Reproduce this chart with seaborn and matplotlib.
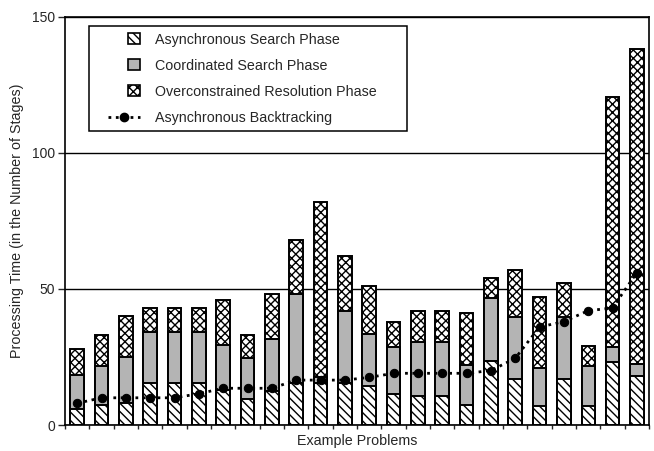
import numpy as np
import matplotlib
matplotlib.use('Agg')
import matplotlib.pyplot as plt
import matplotlib.patches as mpatches
from matplotlib.lines import Line2D
from matplotlib.legend_handler import HandlerPatch, HandlerLine2D
import seaborn as sns

# one entry per example problem (left to right)
problems = [str(i) for i in range(1, 25)]
async_phase = [6, 7.5, 8, 15.5, 15.5, 15.5, 13, 9.5, 12.5, 15.5, 15.5, 15.5,
               14.5, 11.5, 10.5, 10.5, 7.5, 23.5, 17, 7, 17, 7, 23, 18]
coord_phase = [12.5, 14, 17, 18.5, 18.5, 18.5, 16.5, 15, 19, 32.5, 2, 26.5,
               19, 17, 20, 20, 14.5, 23, 22.5, 14, 22.5, 14.5, 5.5, 4.5]
overc_phase = [9.5, 11.5, 15, 9, 9, 9, 16.5, 8.5, 16.5, 20, 64.5, 20,
               17.5, 9.5, 11.5, 11.5, 19, 7.5, 17.5, 26, 12.5, 7.5, 92, 115.5]
backtracking = [8, 10, 10, 10, 10, 11.5, 13.5, 13.5, 13.5, 16.5, 16.5, 16.5,
                17.5, 19, 19, 19, 19, 20, 24.5, 36, 38, 42, 43, 56]

y_ticks = [0, 50, 100, 150]

sns.set_style('white')
plt.rcParams['font.family'] = ['Liberation Sans', 'DejaVu Sans']
plt.rcParams['hatch.linewidth'] = 1.0
plt.rcParams['hatch.color'] = 'black'

# stacked heights
coord_top = np.array(async_phase) + np.array(coord_phase)
total = coord_top + np.array(overc_phase)

fig = plt.figure(figsize=(6.54, 4.51), dpi=100)
ax = fig.add_axes([0.0994, 0.0576, 0.8930, 0.9054])

bar_kw = dict(width=0.55, edgecolor='black', linewidth=1.4, saturation=1,
              errorbar=None, ax=ax)
sns.barplot(x=problems, y=total, color='white', hatch='xxxx', **bar_kw)
sns.barplot(x=problems, y=coord_top, color='#b4b4b4', **bar_kw)
sns.barplot(x=problems, y=async_phase, color='white', hatch='\\\\\\\\', **bar_kw)

sns.lineplot(x=np.arange(len(problems)), y=backtracking, color='black',
             linestyle=':', linewidth=2, marker='o', markersize=6,
             markeredgecolor='black', ax=ax, zorder=5)

ax.set_xlim(-0.5, len(problems) - 0.5)
ax.set_ylim(0, 150)
ax.set_yticks(y_ticks)
ax.set_xticks([])
ax.set_xticks(np.arange(len(problems) + 1) - 0.5, minor=True)
ax.tick_params(axis='x', which='minor', length=3, width=1, direction='out',
               bottom=True)
ax.tick_params(axis='y', length=5, width=1, direction='out', pad=2,
               labelsize=10, left=True)
ax.set_axisbelow(True)
ax.yaxis.grid(True, color='black', linewidth=1)
for s in ax.spines.values():
    s.set_visible(True)
    s.set_color('black')
    s.set_linewidth(1.2)

ax.set_xlabel('Example Problems', fontsize=10.3, labelpad=0)
ax.set_ylabel('Processing Time (in the Number of Stages)', fontsize=10.3,
              labelpad=6)


# legend: small square swatches, line drawn on the right part of the handle
def square_patch(legend, orig_handle, xdescent, ydescent, width, height, fontsize):
    side = height * 1.15
    return mpatches.Rectangle((width - side - xdescent, -ydescent + (height - side) / 2),
                              side, side)


class RightLine(HandlerLine2D):
    def get_xdata(self, legend, xdescent, ydescent, width, height, fontsize):
        x0 = -xdescent + 0.28 * width
        x1 = -xdescent + width
        return np.array([x0, x1]), np.array([(x0 + x1) / 2])


h_async = mpatches.Patch(facecolor='white', edgecolor='black', hatch='\\\\\\\\', linewidth=1.2)
h_coord = mpatches.Patch(facecolor='#b4b4b4', edgecolor='black', linewidth=1.2)
h_overc = mpatches.Patch(facecolor='white', edgecolor='black', hatch='xxxx', linewidth=1.2)
h_back = Line2D([], [], color='black', linestyle=':', linewidth=2, marker='o',
                markersize=6)

leg = ax.legend([h_async, h_coord, h_overc, h_back],
                ['Asynchronous Search Phase', 'Coordinated Search Phase',
                 'Overconstrained Resolution Phase', 'Asynchronous Backtracking'],
                handler_map={mpatches.Patch: HandlerPatch(patch_func=square_patch),
                             Line2D: RightLine()},
                loc='upper left', bbox_to_anchor=(0.041, 0.0, 0.5445, 0.977),
                mode='expand', borderaxespad=0, borderpad=0.45,
                handlelength=3.1, handletextpad=1.05, labelspacing=0.84,
                fontsize=10.3, frameon=True, fancybox=False, framealpha=1)
leg.get_frame().set_edgecolor('black')
leg.get_frame().set_linewidth(1.1)

fig.savefig('out.png', dpi=100)
